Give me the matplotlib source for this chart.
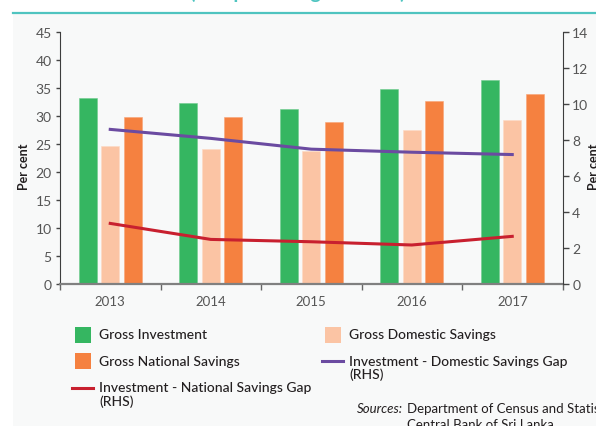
import numpy as np
import matplotlib
matplotlib.use("Agg")
import matplotlib.pyplot as plt
from matplotlib.lines import Line2D
from matplotlib.patches import Rectangle

# data
years = ["2013", "2014", "2015", "2016", "2017"]
gross_investment = [33.2, 32.3, 31.2, 34.9, 36.5]
gross_domestic_savings = [24.6, 24.2, 23.7, 27.6, 29.3]
gross_national_savings = [29.9, 29.8, 28.9, 32.8, 33.9]
inv_dom_gap = [8.6, 8.1, 7.5, 7.33, 7.2]
inv_nat_gap = [3.37, 2.48, 2.35, 2.17, 2.65]

green = "#35B661"
peach = "#FBC4A4"
orange = "#F58140"
purple = "#6B4BA1"
red = "#C8202F"
teal = "#4FC4C0"
txt = "#231F20"
tick_col = "#555555"

plt.rcParams['font.family'] = ['Lato', 'DejaVu Sans']

W, H = 596, 427
fig = plt.figure(figsize=(W / 100, H / 100), dpi=100)

def fx(px):
    return px / W

def fy(py):
    return 1 - py / H

# light panel + teal rule at the top
fig.patches.append(Rectangle((fx(13), 0), 1 - fx(13), fy(15),
                             transform=fig.transFigure, facecolor="#F8F9F9",
                             edgecolor="none", zorder=-10))
fig.lines.append(Line2D([fx(13), 1], [fy(14)] * 2, transform=fig.transFigure,
                        color=teal, lw=1.6, zorder=-5))
fig.text(0.5, fy(-1), "(as a percentage of GDP)", ha="center", va="baseline",
         color=teal, fontsize=14, fontweight="bold")

ax = fig.add_axes([fx(60), fy(285), (562.5 - 60) / W, (285 - 33.3) / H])
ax.set_facecolor("none")
ax2 = ax.twinx()

x = np.arange(len(years))
bw = 0.176
off = 0.223
ax.bar(x - off, gross_investment, bw, color=green, edgecolor="#6fcc8f", lw=0.4)
ax.bar(x, gross_domestic_savings, bw, color=peach, edgecolor="#fdd9c4", lw=0.4)
ax.bar(x + off, gross_national_savings, bw, color=orange, edgecolor="#f8a375", lw=0.4)

ax2.plot(x, inv_dom_gap, color=purple, lw=2.2)
ax2.plot(x, inv_nat_gap, color=red, lw=2.2)

ax.set_xlim(-0.5, len(years) - 0.5)
ax.set_ylim(0, 45)
ax.set_yticks(np.arange(0, 46, 5))
ax2.set_ylim(0, 14)
ax2.set_yticks(np.arange(0, 15, 2))

ax.set_xticks(np.arange(-0.5, len(years), 1))
ax.set_xticklabels([])
ax.set_xticks(x, minor=True)
ax.set_xticklabels(years, minor=True)
ax.tick_params(axis="x", which="major", length=4, width=1, color="#666666")
ax.tick_params(axis="x", which="minor", length=0, pad=8, labelsize=9.5, labelcolor=tick_col)
ax.tick_params(axis="y", length=3, width=1, color="#444444", labelsize=10,
               labelcolor=tick_col, pad=3)
ax2.tick_params(axis="y", length=4, width=1, color="#444444", labelsize=10,
                labelcolor=tick_col, pad=3)

for a in (ax, ax2):
    a.spines["top"].set_visible(False)
ax.spines["right"].set_visible(False)
ax2.spines["left"].set_visible(False)
ax2.spines["bottom"].set_visible(False)
ax.spines["left"].set_color("#3d3d3d")
ax2.spines["right"].set_color("#3d3d3d")
ax.spines["bottom"].set_color("#808080")
ax.spines["bottom"].set_linewidth(1.6)

fig.text(fx(24), fy(167), "Per cent", rotation=90, ha="center", va="center",
         fontsize=9, fontweight="bold", color=txt)
fig.text(fx(594), fy(167), "Per cent", rotation=90, ha="center", va="center",
         fontsize=9, fontweight="bold", color=txt)

# legend drawn by hand so the wrapped "(RHS)" lines sit like the original
def legend_square(px, py, c):
    fig.patches.append(Rectangle((fx(px), fy(py + 8)), 16 / W, 16 / H,
                                 transform=fig.transFigure, facecolor=c,
                                 edgecolor="none"))

def legend_line(px, py, c):
    fig.lines.append(Line2D([fx(px), fx(px + 21.5)], [fy(py)] * 2,
                            transform=fig.transFigure, color=c, lw=2.2))

def legend_text(px, py, s):
    fig.text(fx(px), fy(py), s, ha="left", va="top", fontsize=10,
             fontweight="medium", color=txt, linespacing=1.12)

rows = [335.5, 362, 388.5]
legend_square(75, rows[0], green)
legend_text(99.3, rows[0] - 6.5, "Gross Investment")
legend_square(75, rows[1], orange)
legend_text(99.3, rows[1] - 6.5, "Gross National Savings")
legend_line(71.7, rows[2], red)
legend_text(99.3, rows[2] - 6.5, "Investment - National Savings Gap\n(RHS)")
legend_square(325, rows[0], peach)
legend_text(349.3, rows[0] - 6.5, "Gross Domestic Savings")
legend_line(321.7, rows[1], purple)
legend_text(349.3, rows[1] - 6.5, "Investment - Domestic Savings Gap\n(RHS)")

fig.text(fx(356.7), fy(409), "Sources:", style="italic", ha="left", va="center",
         fontsize=9.5, color=txt)
fig.text(fx(406.7), fy(409), "Department of Census and Statistics",
         ha="left", va="center", fontsize=9.5, color=txt)
fig.text(fx(406.7), fy(425), "Central Bank of Sri Lanka",
         ha="left", va="center", fontsize=9.5, color=txt)

fig.savefig("out.png", dpi=100)
